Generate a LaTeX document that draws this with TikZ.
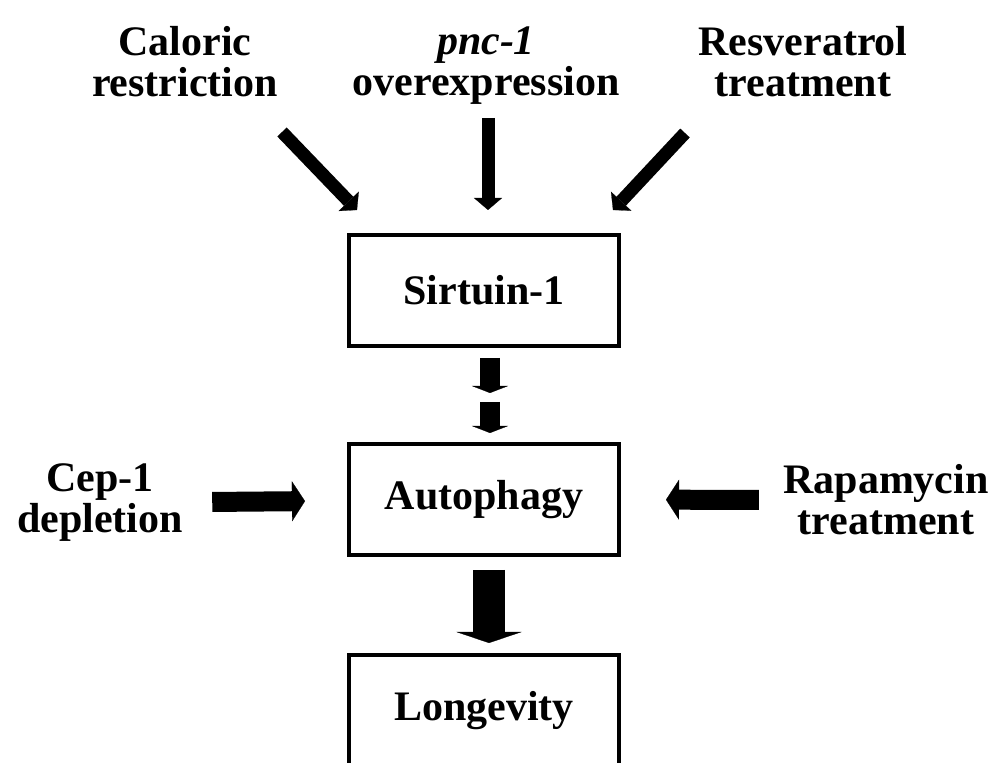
\documentclass[tikz,border=0pt]{standalone}
\usepackage{fontspec}
\setmainfont{Liberation Serif}
\usetikzlibrary{arrows.meta,positioning,calc}
\tikzset{
  stage/.style  = {draw, line width=2pt, outer sep=0pt, minimum width=135pt,
                   minimum height=55.5pt, font=\bfseries\fontsize{21}{20}\selectfont},
  cue/.style    = {align=center, inner sep=0pt, font=\bfseries\fontsize{21}{20.5}\selectfont},
  thinar/.style = {-{Triangle[width=14pt,length=6pt,line width=0.1pt]}, line width=6.5pt},
  sidear/.style = {-{Triangle[width=20pt,length=6.5pt,line width=0.1pt]}, line width=10pt},
  dashar/.style = {-{Triangle[width=18pt,length=3.5pt,line width=0.1pt]}, line width=10pt},
  bigar/.style  = {-{Triangle[width=32.5pt,length=5.5pt,line width=0.1pt]}, line width=16pt},
}

\begin{document}
\begin{tikzpicture}[x=0.5pt, y=-0.5pt]
  \path[use as bounding box, clip] (0,0) rectangle (1002,763);

  % main chain
  \node[stage] (sirt) at (484,290.5) {Sirtuin-1};
  \node[stage, below=49pt of sirt] (auto) {Autophagy};
  \node[stage, below=50pt of auto] (long) {Longevity};

  % what acts on it
  \node[cue] (cr)   at (185,62)  {Caloric\\restriction};
  \node[cue] (pnc)  at (486,66)  {\textit{pnc-1}\\overexpression};
  \node[cue] (rsv)  at (803,62)  {Resveratrol\\treatment};
  \node[cue] (cep)  at (100,503) {Cep-1\\depletion};
  \node[cue] (rapa) at (886,500) {Rapamycin\\treatment};

  % ends of the three upper arrows
  \coordinate (crTail)  at (282,132);
  \coordinate (crTip)   at (357,210);
  \coordinate (pncTail) at (488,118);
  \coordinate (pncTip)  at (488,210);
  \coordinate (rsvTail) at (685,133);
  \coordinate (rsvTip)  at (613,210);
  \draw[thinar] (crTail) -- (crTip);
  \draw[thinar] (pncTail) -- (pncTip);
  \draw[thinar] (rsvTail) -- (rsvTip);

  % broken arrow sirtuin -> autophagy
  \draw[dashar] ([xshift=3pt,yshift=-6pt]sirt.south) -- ([xshift=3pt,yshift=-23.5pt]sirt.south);
  \draw[dashar] ([xshift=3pt,yshift=-28pt]sirt.south) -- ([xshift=3pt,yshift=5.5pt]auto.north);

  \draw[sidear, shorten <=14.5pt, shorten >=22pt] (cep) -- (auto);
  \draw[sidear, shorten <=12pt, shorten >=23.5pt] (rapa) -- (auto);
  \draw[bigar, shorten <=7.5pt, shorten >=6pt] ([xshift=2.5pt]auto.south) -- ([xshift=2.5pt]long.north);
\end{tikzpicture}
\end{document}
